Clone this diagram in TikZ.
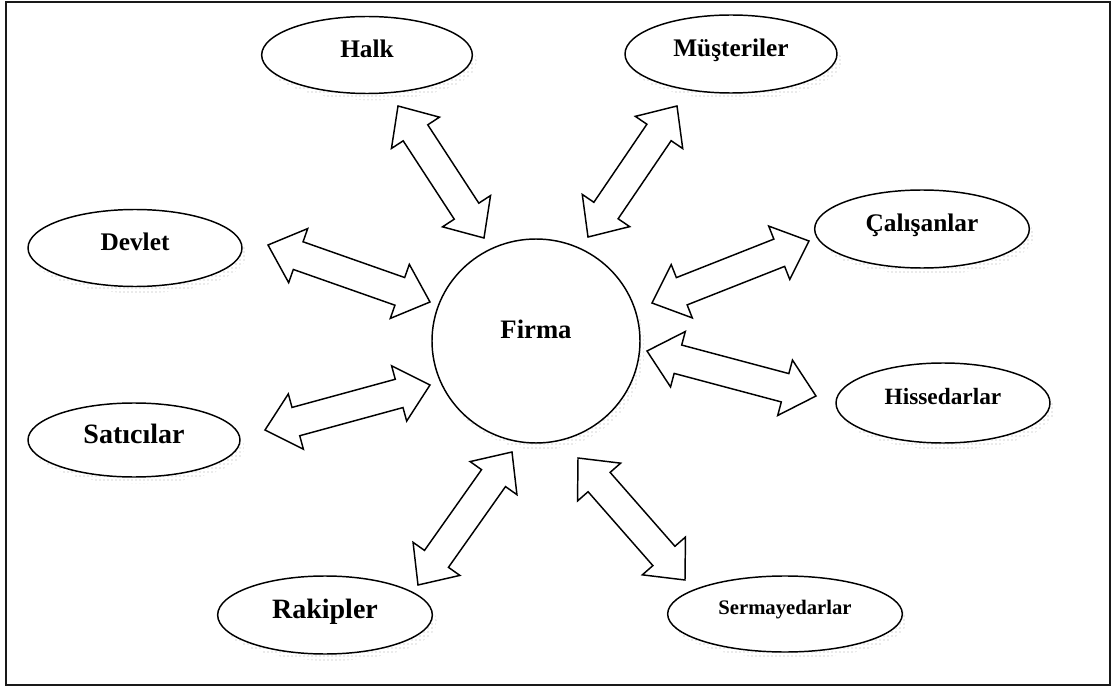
\documentclass[tikz,border=0pt]{standalone}
\usepackage{fontspec}
\setmainfont{Liberation Serif}
\usetikzlibrary{calc, shapes.geometric, shadows, patterns}

% hollow two-headed block arrow between two coordinates
\newcommand{\hollowarrow}[2]{%
  \draw[blockarr] (#1)
    -- ($(#1)!24pt!(#2)!21.5pt!90:(#2)$)
    -- ($(#1)!24pt!(#2)!11pt!90:(#2)$)
    -- ($(#2)!24pt!(#1)!11pt!-90:(#1)$)
    -- ($(#2)!24pt!(#1)!21.5pt!-90:(#1)$)
    -- (#2)
    -- ($(#2)!24pt!(#1)!21.5pt!90:(#1)$)
    -- ($(#2)!24pt!(#1)!11pt!90:(#1)$)
    -- ($(#1)!24pt!(#2)!11pt!-90:(#2)$)
    -- ($(#1)!24pt!(#2)!21.5pt!-90:(#2)$)
    -- cycle;}

\begin{document}
\begin{tikzpicture}[
  x=0.75pt, y=-0.75pt,
  every node/.style={font=\bfseries\fontsize{19pt}{20pt}\selectfont},
  stake/.style 2 args={ellipse, draw=black, line width=1.1pt, fill=white,
                       inner sep=0pt, text depth=10pt,
                       minimum width=#1, minimum height=#2,
                       general shadow={shadow xshift=3.5pt, shadow yshift=-5pt,
                                       pattern=dots, pattern color=gray!70}},
  blockarr/.style={draw=black, line width=1.1pt, fill=white, line join=miter}
]
  \useasboundingbox (0,0) rectangle (1115,688);
  \draw[line width=1.6pt, draw=black!90] (6,2) rectangle (1110,685);

  % stakeholders
  \node[stake={156pt}{153pt}, text depth=17pt,
        font=\bfseries\fontsize{20pt}{21pt}\selectfont] (firma) at (536,341) {Firma};
  \node[stake={158pt}{57.75pt}] (halk)  at (367,55)  {Halk};
  \node[stake={159pt}{58.5pt}] (must)  at (731,54)  {Müşteriler};
  \node[stake={160.5pt}{57.75pt}] (devlet) at (135,248) {Devlet};
  \node[stake={161pt}{58.5pt}] (calis) at (922,229) {Çalışanlar};
  \node[stake={159pt}{55.5pt},
        font=\bfseries\fontsize{21pt}{22pt}\selectfont] (satici) at (134,440) {Satıcılar};
  \node[stake={160.5pt}{60pt},
        font=\bfseries\fontsize{17.5pt}{18pt}\selectfont] (hisse) at (943,403) {Hissedarlar};
  \node[stake={161pt}{58.5pt},
        font=\bfseries\fontsize{21pt}{22pt}\selectfont] (rakip) at (325,615) {Rakipler};
  \node[stake={176pt}{57pt},
        font=\bfseries\fontsize{15.5pt}{16pt}\selectfont] (serma) at (785,614) {Sermayedarlar};

  % arrow ends
  \coordinate (ha1) at (398,106);  \coordinate (ha2) at (484,238);
  \coordinate (mu1) at (588,237);  \coordinate (mu2) at (677,106);
  \coordinate (de1) at (268,245);  \coordinate (de2) at (430,302);
  \coordinate (ca1) at (652,303);  \coordinate (ca2) at (809,241);
  \coordinate (sa1) at (265,430);  \coordinate (sa2) at (430,385);
  \coordinate (hi1) at (647,351);  \coordinate (hi2) at (816,396);
  \coordinate (ra1) at (418,585);  \coordinate (ra2) at (512,452);
  \coordinate (se1) at (578,458);  \coordinate (se2) at (685,580);

  \hollowarrow{ha1}{ha2}
  \hollowarrow{mu1}{mu2}
  \hollowarrow{de1}{de2}
  \hollowarrow{ca1}{ca2}
  \hollowarrow{sa1}{sa2}
  \hollowarrow{hi1}{hi2}
  \hollowarrow{ra1}{ra2}
  \hollowarrow{se1}{se2}
\end{tikzpicture}
\end{document}
